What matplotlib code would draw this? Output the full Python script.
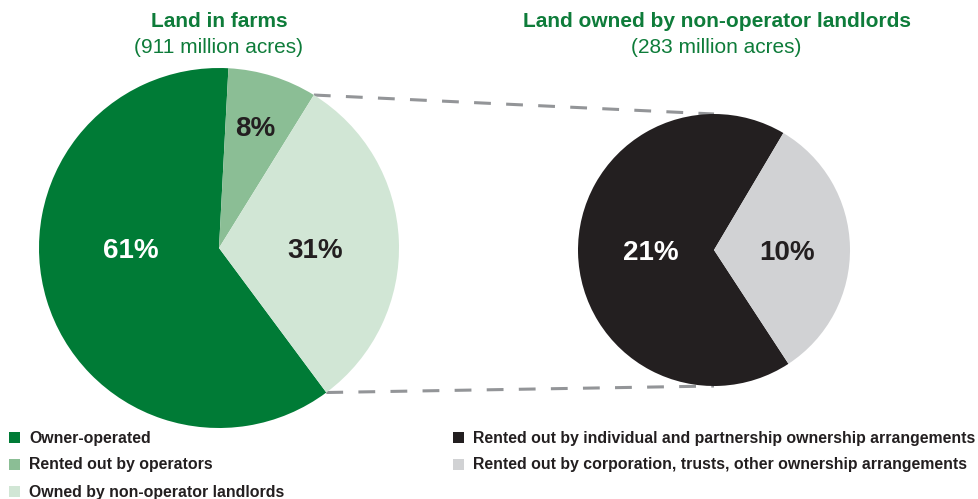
import numpy as np
import matplotlib
matplotlib.use("Agg")
import matplotlib.pyplot as plt

plt.rcParams['font.family'] = ['Liberation Sans', 'DejaVu Sans']

# Data
left_labels = ["Owner-operated", "Rented out by operators", "Owned by non-operator landlords"]
left_values = [61, 8, 31]
left_colors = ["#007B36", "#8BBE95", "#D1E6D5"]
left_title = "Land in farms"
left_sub = "(911 million acres)"

right_labels = ["Rented out by individual and partnership ownership arrangements",
                "Rented out by corporation, trusts, other ownership arrangements"]
right_values = [21, 10]
right_colors = ["#231F20", "#D1D2D4"]
right_title = "Land owned by non-operator landlords"
right_sub = "(283 million acres)"

W, H = 979, 499
fig = plt.figure(figsize=(W / 100, H / 100), dpi=100)
ax = fig.add_axes([0, 0, 1, 1])

green = "#0E7C3A"
txtcol = "#231F20"

# Left pie
lc = (219, H - 248)
lr = 180
lstart = -53.4
ax.pie(left_values, colors=left_colors, startangle=lstart, counterclock=False,
       center=lc, radius=lr, frame=True, wedgeprops=dict(linewidth=0))

# Right pie
rc = (714, H - 250)
rr = 136
rstart = -56.8
ax.pie(right_values, colors=right_colors, startangle=rstart, counterclock=False,
       center=rc, radius=rr, frame=True, wedgeprops=dict(linewidth=0))
ax.set_xlim(0, W)
ax.set_ylim(0, H)
ax.set_aspect('equal')
ax.axis('off')

def pct(values, idx):
    return f"{values[idx]}%"

def lbl(x, y, s, color):
    ax.text(x, y - 3, s, ha='center', va='center', fontsize=20,
            fontweight='bold', color=color)

# Percent labels
lbl(lc[0] - 88, lc[1], pct(left_values, 0), "white")
tot = sum(left_values)
a0 = lstart - 360 * left_values[0] / tot
a1 = a0 - 360 * left_values[1] / tot
am = np.deg2rad((a0 + a1) / 2 + 360)
lbl(lc[0] + 0.71 * lr * np.cos(am) - 2, lc[1] + 0.71 * lr * np.sin(am), pct(left_values, 1), txtcol)
lbl(lc[0] + 96, lc[1], pct(left_values, 2), txtcol)
lbl(rc[0] - 63, rc[1], pct(right_values, 0), "white")
lbl(rc[0] + 73, rc[1], pct(right_values, 1), txtcol)

# Connecting dashed lines
a_top = np.deg2rad(lstart - 360 * (left_values[0] + left_values[1]) / tot + 360)
a_bot = np.deg2rad(lstart)
p1 = (lc[0] + lr * np.cos(a_top), lc[1] + lr * np.sin(a_top))
p2 = (rc[0], rc[1] + rr)
p3 = (lc[0] + lr * np.cos(a_bot), lc[1] + lr * np.sin(a_bot))
p4 = (rc[0], rc[1] - rr)
for a, b in [(p1, p2), (p3, p4)]:
    ax.plot([a[0], b[0]], [a[1], b[1]], color="#939598", lw=2.2,
            dashes=(5.5, 5.0), zorder=0)

# Titles
ax.text(219, H - 21, left_title, ha='center', va='center', fontsize=15,
        fontweight='bold', color=green)
ax.text(219, H - 47, left_sub, ha='center', va='center', fontsize=15, color=green)
ax.text(717, H - 21, right_title, ha='center', va='center', fontsize=15,
        fontweight='bold', color=green)
ax.text(716, H - 47, right_sub, ha='center', va='center', fontsize=15, color=green)

# Legends
def legend_item(xm, y, color, label):
    ax.add_patch(plt.Rectangle((xm, H - y - 5.5), 11, 11, color=color, lw=0))
    ax.text(xm + 20, H - y - 1, label, ha='left', va='center', fontsize=11.4,
            fontweight='bold', color=txtcol)

for i, (lab, col) in enumerate(zip(left_labels, left_colors)):
    legend_item(9, 437 + 27 * i, col, lab)
for i, (lab, col) in enumerate(zip(right_labels, right_colors)):
    legend_item(453, 437 + 27 * i, col, lab)

fig.savefig("out.png", dpi=100)
